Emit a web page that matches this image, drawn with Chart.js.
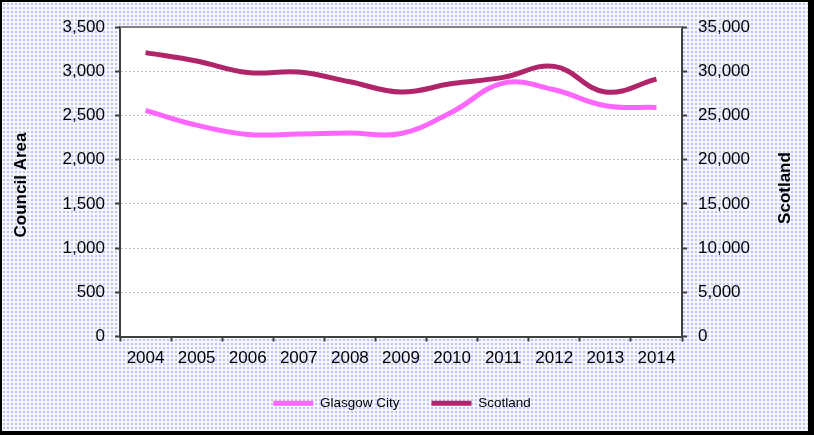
<!DOCTYPE html>
<html>
<head>
<meta charset="utf-8">
<script src="https://cdn.jsdelivr.net/npm/chart.js@4/dist/chart.umd.min.js"></script>
<style>
  html, body { margin: 0; padding: 0; }
  body { width: 814px; height: 435px; background: #000; position: relative; overflow: hidden; }
  #bg {
    position: absolute; left: 2px; top: 2px; width: 806px; height: 429px;
    background-color: #f8f8ff;
    background-image: radial-gradient(circle, #c2c2f4 1.1px, transparent 1.6px);
    background-size: 4px 4px;
  }
  #wrap { position: absolute; left: 0; top: 0; width: 814px; height: 435px; }
</style>
</head>
<body>
<div id="bg"></div>
<div id="wrap"><canvas id="areaChart"></canvas></div>
<script>
// values
const years = ['2004', '2005', '2006', '2007', '2008', '2009', '2010', '2011', '2012', '2013', '2014'];
const glasgowCity = [2557, 2390, 2285, 2290, 2300, 2295, 2540, 2865, 2790, 2610, 2590];
const scotland = [32100, 31150, 29850, 29900, 28800, 27650, 28600, 29300, 30550, 27650, 29100];

// axis ranges
const leftAxis = { min: 0, max: 3500, step: 500 };
const rightAxis = { min: 0, max: 35000, step: 5000 };

const fmt = v => Number(v).toLocaleString('en-US');

// white plot area, top border and the two axis titles
const frame = {
    id: 'frame',
    beforeDraw(chart) {
        const { ctx, chartArea: a } = chart;
        ctx.save();
        ctx.fillStyle = '#ffffff';
        ctx.fillRect(a.left, a.top, a.right - a.left, a.bottom - a.top);
        ctx.restore();
    },
    afterDraw(chart) {
        const { ctx, chartArea: a } = chart;
        ctx.save();
        ctx.strokeStyle = '#808080';
        ctx.lineWidth = 2;
        ctx.beginPath();
        ctx.moveTo(a.left, a.top);
        ctx.lineTo(a.right, a.top);
        ctx.stroke();

        ctx.fillStyle = '#000';
        ctx.font = 'bold 17px "Liberation Sans", Arial, sans-serif';
        ctx.textAlign = 'center';
        ctx.textBaseline = 'middle';
        ctx.translate(21, 185);
        ctx.rotate(-Math.PI / 2);
        ctx.fillText('Council Area', 0, 0);
        ctx.restore();

        ctx.save();
        ctx.fillStyle = '#000';
        ctx.font = 'bold 17px "Liberation Sans", Arial, sans-serif';
        ctx.textAlign = 'center';
        ctx.textBaseline = 'middle';
        ctx.translate(785, 188);
        ctx.rotate(-Math.PI / 2);
        ctx.fillText('Scotland', 0, 0);
        ctx.restore();
    }
};

const ctx = document.getElementById('areaChart').getContext('2d');

new Chart(ctx, {
    type: 'line',
    data: {
        labels: years,
        datasets: [{
            label: 'Glasgow City',
            data: glasgowCity,
            yAxisID: 'y',
            borderColor: '#ff66ff',
            backgroundColor: '#ff66ff',
            borderWidth: 5,
            pointRadius: 0,
            tension: 0.4,
            fill: false
        }, {
            label: 'Scotland',
            data: scotland,
            yAxisID: 'y1',
            borderColor: '#b0246a',
            backgroundColor: '#b0246a',
            borderWidth: 5,
            pointRadius: 0,
            tension: 0.4,
            fill: false
        }]
    },
    options: {
        responsive: true,
        maintainAspectRatio: false,
        animation: false,
        layout: { padding: { left: 0, right: 10, top: 27, bottom: 15 } },
        plugins: {
            tooltip: { enabled: false },
            legend: {
                position: 'bottom',
                labels: {
                    usePointStyle: true,
                    pointStyle: 'line',
                    pointStyleWidth: 40,
                    padding: 32,
                    color: '#000',
                    font: { family: '"Liberation Sans", Arial, sans-serif', size: 13.5 }
                }
            }
        },
        scales: {
            x: {
                offset: true,
                afterFit(scale) { scale.height = 28; },
                grid: { offset: true, drawOnChartArea: false, tickLength: 5, tickColor: '#404040', tickWidth: 2 },
                border: { color: '#404040', width: 2 },
                ticks: {
                    color: '#000', padding: 7, maxRotation: 0,
                    font: { family: '"Liberation Sans", Arial, sans-serif', size: 17 }
                }
            },
            y: {
                position: 'left',
                min: leftAxis.min, max: leftAxis.max,
                afterFit(scale) { scale.width = 120; },
                grid: { color: '#c0c0c0', lineWidth: 1, tickLength: 5, tickColor: '#404040', tickWidth: 2, tickBorderDash: [] },
                border: { color: '#404040', width: 2, dash: [2, 2] },
                ticks: {
                    stepSize: leftAxis.step, color: '#000', padding: 10,
                    callback: fmt,
                    font: { family: '"Liberation Sans", Arial, sans-serif', size: 17 }
                }
            },
            y1: {
                position: 'right',
                min: rightAxis.min, max: rightAxis.max,
                afterFit(scale) { scale.width = 122; },
                grid: { drawOnChartArea: false, tickLength: 5, tickColor: '#404040', tickWidth: 2 },
                border: { color: '#404040', width: 2 },
                ticks: {
                    stepSize: rightAxis.step, color: '#000', padding: 11,
                    callback: fmt,
                    font: { family: '"Liberation Sans", Arial, sans-serif', size: 17 }
                }
            }
        }
    },
    plugins: [frame]
});
</script>
</body>
</html>
